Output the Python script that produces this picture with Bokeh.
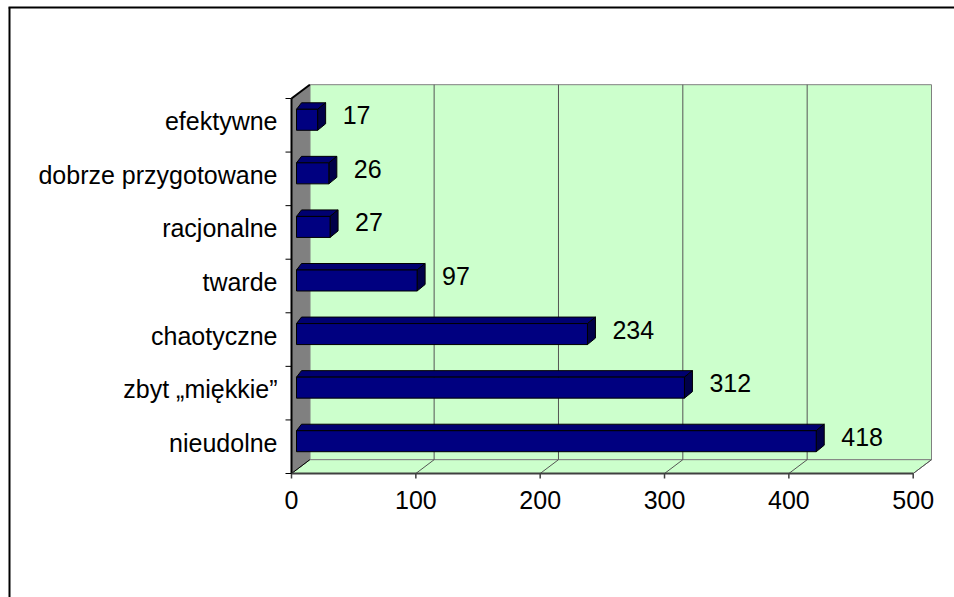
from bokeh.plotting import figure
from bokeh.models import Range1d
from bokeh.embed import file_html
from bokeh.resources import INLINE
from bokeh.core.properties import value

# ---- data ----
categories = ["efektywne", "dobrze przygotowane", "racjonalne", "twarde",
              "chaotyczne", "zbyt „miękkie”", "nieudolne"]
counts = [17, 26, 27, 97, 234, 312, 418]
x_ticks = [0, 100, 200, 300, 400, 500]
x_tick_labels = ["0", "100", "200", "300", "400", "500"]

# ---- geometry (page pixels) ----
W, H = 954, 597
ORIGIN = 0
X0_PAGE, XMAX_PAGE = 291.0, 912.7
YB_PAGE, YT_PAGE = 473.0, 98.0
xmax = x_ticks[-1]
n = len(categories)
PX_X = (XMAX_PAGE - X0_PAGE) / xmax
PX_Y = (YB_PAGE - YT_PAGE) / n


def ux(px):
    return px / PX_X


def uy(px):
    return px / PX_Y


x_start = (ORIGIN - X0_PAGE) / PX_X
x_end = x_start + W / PX_X
y_end = (YB_PAGE - ORIGIN) / PX_Y
y_start = y_end - H / PX_Y

FONT = value("Liberation Sans")
GREEN = "#CCFFCC"
GREY = "#808080"

p = figure(width=W, height=H, x_range=Range1d(x_start, x_end),
           y_range=Range1d(y_start, y_end), output_backend="svg",
           toolbar_location=None, min_border=0, x_axis_type=None,
           y_axis_type=None, outline_line_color=None)
p.grid.visible = False
p.background_fill_color = "white"
p.border_fill_color = "white"

DX, DY = ux(18.3), uy(13.8)

# back wall
p.quad(left=[DX], right=[xmax + DX], bottom=[DY], top=[n + DY],
       fill_color=GREEN, line_color=GREY, line_width=1)
# floor
p.patch([0, xmax, xmax + DX, DX], [0, 0, DY, DY], fill_color=GREEN,
        line_color=GREY, line_width=1)
# left wall
p.patch([0, DX, DX, 0], [0, DY, n + DY, n], fill_color=GREY,
        line_color=GREY, line_width=1)

# gridlines on back wall and floor
inner = [t for t in x_ticks[1:]]
p.segment(x0=[t + DX for t in inner[:-1]], y0=[DY] * (len(inner) - 1),
          x1=[t + DX for t in inner[:-1]], y1=[n + DY] * (len(inner) - 1),
          line_color="#555555", line_width=1)
p.segment(x0=inner, y0=[0] * len(inner), x1=[t + DX for t in inner],
          y1=[DY] * len(inner), line_color="#555555", line_width=1)

# left wall edges
p.segment(x0=[0, 0], y0=[0, n], x1=[0, DX], y1=[n, n + DY],
          line_color="black", line_width=2)
p.segment(x0=[0], y0=[0], x1=[DX], y1=[DY], line_color="black", line_width=1)

# x axis line and ticks
p.segment(x0=[0], y0=[0], x1=[xmax], y1=[0], line_color="#404040", line_width=2)
p.segment(x0=x_ticks, y0=[0] * len(x_ticks), x1=x_ticks,
          y1=[-uy(5)] * len(x_ticks), line_color="#404040", line_width=1.5)
# y ticks
p.segment(x0=[0] * (n + 1), y0=list(range(n + 1)), x1=[-ux(6)] * (n + 1),
          y1=list(range(n + 1)), line_color="black", line_width=1)

# bars
fx, fy, tx, ty, sx, sy = [], [], [], [], [], []
for i, v in enumerate(counts):
    sc = n - 1 - i + 0.5
    bot = sc - uy(5)
    top = sc + uy(16)
    x0 = ux(5)
    x1 = v + ux(5)
    fx.append([x0, x1, x1, x0]); fy.append([bot, bot, top, top])
    tx.append([x0, x1, x1 + ux(8), x0 + ux(5)])
    ty.append([top, top, top + uy(6.5), top + uy(6.5)])
    sx.append([x1, x1 + ux(8), x1 + ux(8), x1])
    sy.append([bot, bot + uy(6.5), top + uy(6.5), top])
p.patches(tx, ty, fill_color="#000070", line_color="black", line_width=1)
p.patches(sx, sy, fill_color="#000048", line_color="black", line_width=1)
p.patches(fx, fy, fill_color="#000080", line_color="black", line_width=1)

# value labels
centers = [n - 1 - i + 0.5 for i in range(n)]
p.text(x=[v + ux(30) for v in counts], y=[c + uy(10) for c in centers],
       text=[str(v) for v in counts], text_align="left",
       text_baseline="middle", text_font=FONT, text_font_size="25px",
       text_color="black")

# category labels
p.text(x=[-ux(14)] * n, y=[c + uy(4) for c in centers], text=categories,
       text_align="right", text_baseline="middle", text_font=FONT,
       text_font_size="25px", text_color="black")

# x tick labels
p.text(x=x_ticks, y=[-uy(26)] * len(x_ticks), text=x_tick_labels,
       text_align="center", text_baseline="middle", text_font=FONT,
       text_font_size="25px", text_color="black")

# outer chart border (left and top visible)
p.segment(x0=[x_start + ux(9), x_start + ux(8)], y0=[y_start, y_end - uy(7)],
          x1=[x_start + ux(9), x_end], y1=[y_end - uy(7), y_end - uy(7)],
          line_color="black", line_width=2)

open("out.html", "w").write(file_html(p, INLINE))
